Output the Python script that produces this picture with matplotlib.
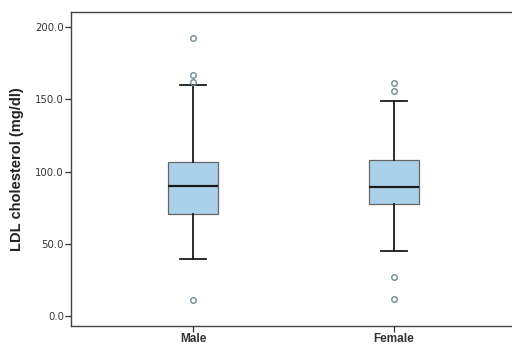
import matplotlib
matplotlib.use("Agg")
import matplotlib.pyplot as plt

categories = ["Male", "Female"]
medians = [90.1, 89.2]
q1 = [71.0, 77.5]
q3 = [106.7, 108.4]
whislo = [39.2, 45.0]
whishi = [159.8, 148.9]
fliers = [[192.7, 167.1, 161.8, 11.1], [161.6, 155.8, 27.2, 11.5]]
yticks = [0.0, 50.0, 100.0, 150.0, 200.0]

plt.rcParams['font.family'] = ['Liberation Sans', 'DejaVu Sans']

fig = plt.figure(figsize=(5.12, 3.51), dpi=100)
ax = fig.add_axes([71/512, 1-326/351, 1-71/512, (326-12)/351])

stats = []
for i, c in enumerate(categories):
    stats.append(dict(label=c, med=medians[i], q1=q1[i], q3=q3[i],
                      whislo=whislo[i], whishi=whishi[i], fliers=fliers[i]))

ax.bxp(stats, positions=[1, 2], widths=0.25, patch_artist=True,
       boxprops=dict(facecolor='#abd1ea', edgecolor='#666666', linewidth=0.9),
       medianprops=dict(color='#1a1a1a', linewidth=1.6),
       whiskerprops=dict(color='#1a1a1a', linewidth=1.3),
       capprops=dict(color='#1a1a1a', linewidth=1.3),
       flierprops=dict(marker='o', markersize=4.0, markerfacecolor='none',
                       markeredgecolor='#6f8e9c', markeredgewidth=1.0),
       capwidths=0.125)

ax.set_xlim(0.393, 2.587)
ax.set_ylim(-6.9, 210.6)
ax.set_yticks(yticks)
ax.set_yticklabels([f"{v:.1f}" for v in yticks], fontsize=7.3, color='#333333',
                   family='DejaVu Sans')
ax.set_xticks([1, 2])
ax.set_xticklabels(categories, fontsize=8.5, fontweight='bold', color='#222222')
ax.tick_params(axis='both', direction='out', length=4, width=0.9, colors='#333333', pad=1)
ax.set_ylabel("LDL cholesterol (mg/dl)", fontsize=10.5, fontweight='bold', color='#222222', labelpad=8)
ax.spines['right'].set_visible(False)
for s in ['left', 'top', 'bottom']:
    ax.spines[s].set_color('#444444')
    ax.spines[s].set_linewidth(1.0)

fig.savefig("out.png", dpi=100)
